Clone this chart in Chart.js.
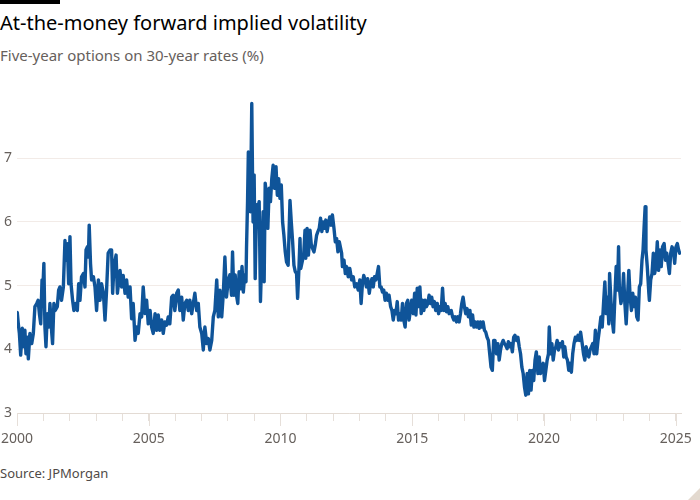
<!DOCTYPE html>
<html>
<head>
<meta charset="utf-8">
<script src="https://cdn.jsdelivr.net/npm/chart.js@4"></script>
<style>
  html, body { margin: 0; padding: 0; background: #fff; }
  body { width: 700px; height: 500px; position: relative; overflow: hidden; font-family: "Noto Sans", sans-serif; }
  .bar { position: absolute; left: 0; top: 0; width: 60px; height: 4px; background: #000; }
  .title { position: absolute; left: 0; top: 9px; font-size: 20px; color: #000; white-space: nowrap; }
  .subtitle { position: absolute; left: 0; top: 45px; font-size: 15px; color: #66605c; white-space: nowrap; }
  .source { position: absolute; left: 0; top: 464px; font-size: 13px; color: #4f4a47; white-space: nowrap; }
  .corner { position: absolute; right: 0; bottom: 0; width: 0; height: 0; border-style: solid; border-width: 0 0 12px 12px; border-color: transparent transparent #e3d9cf transparent; }
  #chart { position: absolute; left: 0; top: 80px; }
</style>
</head>
<body>
<div class="bar"></div>
<div class="title">At-the-money forward implied volatility</div>
<div class="subtitle">Five-year options on 30-year rates (%)</div>
<canvas id="chart" width="700" height="380"></canvas>
<div class="source">Source: JPMorgan</div>
<div class="corner"></div>
<script>
// Five-year options on 30-year rates, ATM forward implied vol (%)
const dates = [
  2000.00, 2000.01, 2000.05, 2000.09, 2000.14, 2000.20, 2000.24, 2000.30, 2000.34, 2000.39,
  2000.43, 2000.49, 2000.56, 2000.62, 2000.68, 2000.75, 2000.80, 2000.85, 2000.90, 2000.95,
  2000.97, 2001.02, 2001.06, 2001.10, 2001.15, 2001.21, 2001.25, 2001.32, 2001.35, 2001.40,
  2001.45, 2001.53, 2001.58, 2001.63, 2001.69, 2001.76, 2001.82, 2001.86, 2001.91, 2001.96,
  2002.01, 2002.05, 2002.11, 2002.16, 2002.23, 2002.29, 2002.34, 2002.39, 2002.45, 2002.52,
  2002.58, 2002.62, 2002.67, 2002.71, 2002.74, 2002.79, 2002.83, 2002.90, 2002.96, 2003.02,
  2003.09, 2003.15, 2003.21, 2003.28, 2003.34, 2003.40, 2003.46, 2003.53, 2003.59, 2003.63,
  2003.68, 2003.76, 2003.81,
  2003.91, 2003.97, 2004.03, 2004.10, 2004.16, 2004.22, 2004.29, 2004.35, 2004.41, 2004.48,
  2004.54, 2004.60, 2004.67, 2004.73, 2004.79, 2004.86, 2004.92, 2004.98, 2005.05, 2005.11,
  2005.17, 2005.24, 2005.30, 2005.36, 2005.42, 2005.49, 2005.55, 2005.61, 2005.68, 2005.74,
  2005.80, 2005.87, 2005.93, 2005.99, 2006.06, 2006.12, 2006.18, 2006.25, 2006.31, 2006.37,
  2006.44, 2006.50, 2006.56, 2006.63, 2006.69, 2006.75, 2006.82, 2006.88, 2006.94, 2007.01,
  2007.07, 2007.13, 2007.20, 2007.26, 2007.32, 2007.39, 2007.45, 2007.51, 2007.58, 2007.64,
  2007.70, 2007.77, 2007.83, 2007.89, 2007.95, 2008.02,
  2008.08, 2008.14, 2008.18, 2008.23, 2008.28, 2008.33, 2008.38, 2008.43, 2008.49, 2008.54,
  2008.59, 2008.64, 2008.69, 2008.71, 2008.75, 2008.78, 2008.81, 2008.86, 2008.91, 2008.94,
  2008.96, 2009.00, 2009.04, 2009.09, 2009.14, 2009.19, 2009.24, 2009.29, 2009.34, 2009.38,
  2009.42, 2009.47, 2009.52, 2009.57, 2009.62, 2009.67, 2009.72, 2009.77, 2009.83, 2009.88,
  2009.93, 2009.98, 2010.03, 2010.08, 2010.13, 2010.18, 2010.23, 2010.29, 2010.36, 2010.41,
  2010.46, 2010.51, 2010.56, 2010.61, 2010.65, 2010.70, 2010.74, 2010.77, 2010.82, 2010.88,
  2010.93, 2010.96, 2011.01, 2011.06, 2011.12, 2011.17, 2011.22, 2011.27, 2011.32, 2011.37,
  2011.42, 2011.47, 2011.52, 2011.57, 2011.62, 2011.67, 2011.72, 2011.77, 2011.82, 2011.87,
  2011.92, 2011.97, 2012.03, 2012.08, 2012.13, 2012.18, 2012.23,
  2012.32, 2012.35, 2012.41, 2012.46, 2012.51, 2012.57, 2012.63, 2012.70, 2012.76, 2012.82,
  2012.89, 2012.95, 2013.01, 2013.06, 2013.11, 2013.16, 2013.21, 2013.26, 2013.31, 2013.37,
  2013.42, 2013.47, 2013.52, 2013.57, 2013.62, 2013.67, 2013.72, 2013.77, 2013.82, 2013.87,
  2013.92, 2013.97, 2014.02, 2014.07, 2014.12, 2014.18, 2014.23, 2014.28, 2014.33, 2014.38,
  2014.43, 2014.48, 2014.53, 2014.58, 2014.63, 2014.68, 2014.73, 2014.78, 2014.83, 2014.88,
  2014.93, 2014.98, 2015.04, 2015.09, 2015.14, 2015.19, 2015.24, 2015.29, 2015.34, 2015.39,
  2015.44, 2015.49, 2015.54, 2015.59, 2015.64, 2015.69, 2015.74, 2015.79, 2015.84, 2015.89,
  2015.95, 2016.00, 2016.05, 2016.10, 2016.15, 2016.20, 2016.25, 2016.30, 2016.35, 2016.40,
  2016.48, 2016.53, 2016.58, 2016.63, 2016.68, 2016.73, 2016.78, 2016.83, 2016.88, 2016.93,
  2016.98, 2017.03, 2017.08, 2017.13, 2017.19, 2017.24, 2017.29, 2017.34, 2017.39, 2017.44,
  2017.49, 2017.54, 2017.59, 2017.64, 2017.69, 2017.74, 2017.79, 2017.84, 2017.89, 2017.94,
  2017.99, 2018.04, 2018.09, 2018.14, 2018.20, 2018.25, 2018.30, 2018.35, 2018.40, 2018.45,
  2018.50, 2018.55, 2018.60, 2018.65, 2018.70, 2018.75, 2018.80, 2018.85, 2018.90, 2018.96,
  2019.01, 2019.06, 2019.11, 2019.16, 2019.21, 2019.26, 2019.31, 2019.36, 2019.41, 2019.46,
  2019.51, 2019.56, 2019.61, 2019.66, 2019.71, 2019.77, 2019.82, 2019.87, 2019.92, 2019.97,
  2020.02, 2020.07, 2020.12, 2020.17, 2020.20, 2020.25, 2020.30, 2020.35, 2020.40, 2020.45,
  2020.50, 2020.55, 2020.60, 2020.65, 2020.70, 2020.75,
  2020.79, 2020.84, 2020.89, 2020.94, 2020.99, 2021.04, 2021.09, 2021.14, 2021.19, 2021.24,
  2021.29, 2021.34, 2021.39, 2021.45, 2021.50, 2021.55, 2021.60, 2021.65, 2021.70, 2021.75,
  2021.80, 2021.85, 2021.90, 2021.95, 2022.00, 2022.05, 2022.10, 2022.16, 2022.21, 2022.26,
  2022.31, 2022.36, 2022.41, 2022.46, 2022.49, 2022.54, 2022.59, 2022.64, 2022.69, 2022.74,
  2022.79, 2022.83, 2022.86, 2022.92, 2022.97, 2023.02, 2023.07, 2023.12, 2023.17, 2023.22,
  2023.27, 2023.32, 2023.37, 2023.42, 2023.47, 2023.52, 2023.57, 2023.62, 2023.67, 2023.72,
  2023.76, 2023.80, 2023.84, 2023.87, 2023.92, 2023.98, 2024.00, 2024.05, 2024.10, 2024.15,
  2024.20, 2024.25, 2024.30, 2024.35, 2024.40, 2024.45, 2024.50, 2024.56, 2024.61, 2024.66,
  2024.71, 2024.76, 2024.81, 2024.86, 2024.91, 2024.96, 2025.01, 2025.06, 2025.11, 2025.15
];
const vols = [
  4.48, 4.58, 4.40, 4.25, 3.91, 4.33, 4.04, 4.30, 3.93, 4.19,
  3.85, 4.25, 4.09, 4.25, 4.67, 4.72, 4.77, 4.56, 4.40, 5.09,
  4.82, 5.35, 4.35, 4.04, 4.56, 4.35, 4.72, 4.25, 4.09, 4.72,
  4.61, 4.67, 4.93, 4.98, 4.77, 4.98, 5.71, 5.40, 5.66, 5.03,
  5.77, 5.03, 4.77, 4.61, 4.72, 4.61, 5.03, 4.77, 5.14, 5.19,
  4.98, 5.56, 5.61, 5.45, 5.95, 5.35, 5.09, 5.14, 4.98, 4.61,
  5.09, 4.77, 5.03, 4.88, 4.46, 4.93, 5.51, 5.56, 5.56, 4.88,
  5.30, 5.48, 4.88,
  5.24, 4.98, 5.16, 4.88, 5.09, 4.82, 4.98, 4.48, 4.72, 4.14,
  4.35, 4.25, 4.56, 4.51, 4.98, 4.56, 4.77, 4.40, 4.61, 4.35,
  4.25, 4.56, 4.30, 4.54, 4.30, 4.46, 4.25, 4.43, 4.38, 4.51,
  4.40, 4.82, 4.85, 4.61, 4.88, 4.93, 4.61, 4.82, 4.46, 4.72,
  4.77, 4.61, 4.77, 4.56, 4.72, 4.88, 4.61, 4.72, 4.35, 4.25,
  3.99, 4.35, 4.09, 4.17, 3.99, 4.14, 4.51, 4.61, 5.09, 4.51,
  4.93, 4.51, 4.88, 5.45, 4.82, 5.09,
  5.17, 4.85, 5.53, 4.85, 5.17, 4.85, 4.72, 5.22, 4.95, 5.30,
  4.90, 5.17, 5.06, 5.58, 6.32, 7.10, 6.63, 6.16, 7.86, 6.68,
  6.00, 6.74, 5.11, 6.27, 6.22, 6.32, 4.75, 5.48, 6.16, 5.06,
  6.61, 6.42, 5.90, 6.53, 6.32, 6.68, 6.89, 6.53, 6.87, 6.42,
  6.68, 6.37, 6.58, 6.00, 5.79, 5.53, 5.37, 5.32, 6.34, 6.00,
  5.69, 5.32, 5.22, 5.19, 4.80, 5.27, 5.74, 5.27, 5.37, 5.48,
  5.87, 5.43, 5.90, 5.48, 5.87, 5.64, 5.58, 5.53, 5.64, 5.79,
  5.85, 5.90, 6.06, 5.85, 6.00, 5.90, 6.03, 5.85, 5.98, 6.08,
  5.95, 6.11, 5.90, 5.69, 5.74, 5.53, 5.69,
  5.51, 5.30, 5.40, 5.19, 5.30, 5.14, 5.27, 5.09, 5.14, 4.98,
  5.03, 4.93, 5.09, 4.72, 5.03, 5.16, 5.09, 4.98, 5.11, 4.88,
  5.03, 5.11, 4.98, 5.14, 5.09, 5.19, 5.30, 4.98, 4.98, 4.90,
  4.93, 4.77, 4.88, 4.77, 4.85, 4.67, 4.61, 4.46, 4.61, 4.56,
  4.75, 4.46, 4.56, 4.46, 4.72, 4.46, 4.35, 4.72, 4.77, 4.46,
  4.61, 4.77, 4.56, 4.88, 4.54, 4.96, 4.67, 4.98, 4.56, 4.77,
  4.61, 4.77, 4.67, 4.72, 4.85, 4.72, 4.82, 4.67, 4.75, 4.61,
  4.72, 4.56, 4.67, 4.61, 4.96, 4.61, 4.72, 4.59, 4.67, 4.56,
  4.61, 4.51, 4.46, 4.51, 4.43, 4.51, 4.43, 4.56, 4.72, 4.82,
  4.67, 4.56, 4.64, 4.51, 4.61, 4.38, 4.54, 4.35, 4.43, 4.35,
  4.43, 4.33, 4.43, 4.35, 4.43, 4.30, 4.27, 4.19, 4.14, 3.93,
  3.72, 3.67, 4.14, 4.14, 3.93, 4.09, 3.83, 3.99, 4.09, 4.14,
  4.09, 4.06, 4.01, 4.12, 4.04, 4.09, 3.96, 4.19, 4.22, 4.14,
  4.19, 4.04, 3.93, 3.72, 3.62, 3.41, 3.28, 3.62, 3.30, 3.67,
  3.36, 3.67, 3.51, 3.83, 3.96, 3.62, 3.88, 3.62, 3.72, 3.78,
  3.51, 3.67, 3.83, 3.93, 4.35, 3.93, 4.09, 3.83, 3.99, 4.04,
  4.14, 3.99, 4.09, 4.04, 4.12, 3.88,
  4.04, 3.88, 3.83, 3.67, 3.78, 3.64, 3.93, 4.09, 4.19, 4.14,
  4.22, 4.14, 4.27, 4.09, 3.93, 3.83, 4.04, 3.93, 3.88, 3.99,
  4.04, 4.09, 3.93, 4.30, 3.93, 4.14, 4.30, 4.51, 4.35, 4.72,
  5.06, 4.56, 4.82, 4.40, 5.19, 4.77, 4.46, 4.27, 4.82, 5.30,
  4.93, 5.61, 4.98, 4.72, 4.82, 5.19, 4.72, 4.40, 4.82, 5.24,
  4.82, 4.61, 4.88, 4.67, 4.82, 4.51, 4.46, 4.98, 5.03, 5.40,
  5.56, 5.92, 6.24, 5.56, 5.30, 4.88, 4.77, 5.09, 5.19, 5.51,
  5.19, 5.30, 5.69, 5.24, 5.56, 5.30, 5.61, 5.66, 5.40, 5.51,
  5.35, 5.19, 5.51, 5.61, 5.56, 5.35, 5.61, 5.66, 5.56, 5.51
];

const yTicks = [3, 4, 5, 6, 7];
const xMajorTicks = [2000, 2005, 2010, 2015, 2020, 2025];

const textColor = '#66605c';
const gridColor = '#f2ebe7';
const tickColor = '#e6dfd9';

// longer tick marks under the labelled years
const majorTicks = {
    id: 'majorTicks',
    afterDraw(chart) {
        const x = chart.scales.x;
        const ctx = chart.ctx;
        ctx.save();
        ctx.strokeStyle = tickColor;
        ctx.lineWidth = 1;
        xMajorTicks.forEach(function(year) {
            const px = Math.round(x.getPixelForValue(year)) + 0.5;
            ctx.beginPath();
            ctx.moveTo(px, x.top);
            ctx.lineTo(px, x.top + 13);
            ctx.stroke();
        });
        ctx.restore();
    }
};

const ctx = document.getElementById('chart').getContext('2d');
new Chart(ctx, {
    type: 'line',
    data: {
        datasets: [{
            label: 'ATM forward implied volatility',
            data: dates.map((d, i) => ({ x: d, y: vols[i] })),
            borderColor: '#0f5499',
            borderWidth: 3.4,
            borderJoinStyle: 'round',
            borderCapStyle: 'round',
            pointRadius: 0,
            tension: 0,
            fill: false
        }]
    },
    options: {
        responsive: false,
        animation: false,
        layout: {
            padding: { left: 0, right: 19, top: 21, bottom: 0 }
        },
        plugins: {
            legend: { display: false },
            tooltip: { enabled: false }
        },
        scales: {
            x: {
                type: 'linear',
                min: 2000,
                max: 2025.2,
                afterFit: function(axis) {
                    axis.height = 47;
                    axis.paddingLeft = 0;
                    axis.paddingRight = 0;
                },
                afterBuildTicks: function(axis) {
                    const t = [];
                    for (let y = 2000; y <= 2025; y++) t.push({ value: y });
                    axis.ticks = t;
                },
                grid: {
                    drawOnChartArea: false,
                    drawTicks: true,
                    tickLength: 8,
                    tickColor: tickColor
                },
                border: { display: true, color: '#e3dbd4' },
                ticks: {
                    autoSkip: false,
                    maxRotation: 0,
                    padding: 10,
                    color: textColor,
                    font: { family: 'Noto Sans', size: 14 },
                    callback: function(value) {
                        return xMajorTicks.includes(value) ? String(value) : '';
                    }
                }
            },
            y: {
                min: 3,
                max: 7.9,
                afterFit: function(axis) {
                    axis.width = 17;
                    axis.paddingTop = 0;
                    axis.paddingBottom = 0;
                },
                afterBuildTicks: function(axis) {
                    axis.ticks = yTicks.map(v => ({ value: v }));
                },
                grid: {
                    color: gridColor,
                    drawTicks: false
                },
                border: { display: false },
                ticks: {
                    padding: 5,
                    color: textColor,
                    font: { family: 'Noto Sans', size: 14 }
                }
            }
        }
    },
    plugins: [majorTicks]
});
</script>
</body>
</html>
